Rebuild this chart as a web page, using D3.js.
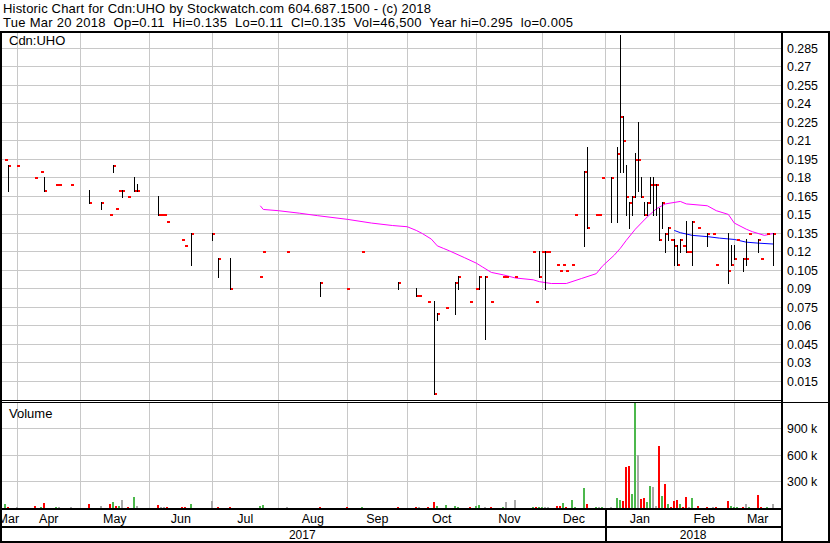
<!DOCTYPE html>
<html><head><meta charset="utf-8">
<script src="https://cdn.jsdelivr.net/npm/d3@7"></script>
<style>
body{margin:0;background:#fff}
svg{display:block}
text{font-family:"Liberation Sans",Arial,sans-serif;font-size:12px;fill:#000}
</style>
</head><body>
<svg id="c" width="830" height="543"></svg>
<script>
// ---------- DATA ----------
const headerLines = [
  "Historic Chart for Cdn:UHO by Stockwatch.com 604.687.1500 - (c) 2018",
  "Tue Mar 20 2018  Op=0.11  Hi=0.135  Lo=0.11  Cl=0.135  Vol=46,500  Year hi=0.295  lo=0.005"
];
const symbol = "Cdn:UHO";
const volumeTitle = "Volume";

const dates = ["2017-03-27","2017-03-28","2017-03-31","2017-04-10","2017-04-12","2017-04-13","2017-04-19","2017-04-20","2017-04-26",
"2017-05-04","2017-05-10","2017-05-15","2017-05-16","2017-05-17","2017-05-18","2017-05-19","2017-05-23","2017-05-25","2017-05-26",
"2017-06-06","2017-06-07","2017-06-08","2017-06-09","2017-06-16","2017-06-19","2017-06-21","2017-06-30",
"2017-07-04","2017-07-10","2017-07-24","2017-07-25","2017-08-04","2017-08-21","2017-09-01","2017-09-08","2017-09-26",
"2017-10-04","2017-10-05","2017-10-10","2017-10-12","2017-10-13","2017-10-18","2017-10-23","2017-10-24","2017-10-30",
"2017-11-01","2017-11-02","2017-11-06","2017-11-08","2017-11-14","2017-11-15","2017-11-20","2017-11-28","2017-11-29","2017-11-30",
"2017-12-01","2017-12-04","2017-12-05","2017-12-08","2017-12-11","2017-12-12","2017-12-13","2017-12-15","2017-12-18","2017-12-21","2017-12-22",
"2017-12-27","2017-12-28","2017-12-29",
"2018-01-03","2018-01-05","2018-01-08","2018-01-09","2018-01-10","2018-01-11","2018-01-12","2018-01-15","2018-01-16","2018-01-17",
"2018-01-18","2018-01-19","2018-01-22","2018-01-23","2018-01-24","2018-01-25","2018-01-26","2018-01-29","2018-01-30","2018-01-31",
"2018-02-01","2018-02-02","2018-02-05","2018-02-06","2018-02-07","2018-02-08","2018-02-09","2018-02-13","2018-02-16","2018-02-20",
"2018-02-21","2018-02-27","2018-02-28",
"2018-03-01","2018-03-02","2018-03-06","2018-03-07","2018-03-08","2018-03-13","2018-03-14","2018-03-16","2018-03-20"];

const highs = [0.195,0.19,0.19,0.18,0.185,0.18,0.175,0.175,0.175,
0.17,0.16,0.15,0.19,0.155,0.17,0.17,0.165,0.18,0.175,
0.165,0.15,0.15,0.145,0.13,0.125,0.135,0.135,
0.115,0.115,0.10,0.12,0.12,0.095,0.09,0.12,0.095,
0.09,0.085,0.08,0.08,0.07,0.075,0.095,0.10,0.08,
0.09,0.10,0.10,0.08,0.10,0.10,0.10,0.12,0.08,0.12,
0.12,0.12,0.12,0.11,0.105,0.11,0.105,0.11,0.15,0.185,0.205,
0.15,0.15,0.18,
0.18,0.205,0.295,0.23,0.19,0.16,0.165,0.20,0.225,0.18,
0.16,0.16,0.18,0.18,0.175,0.155,0.16,0.135,0.14,0.13,
0.13,0.125,0.13,0.125,0.145,0.12,0.145,0.14,0.135,0.135,
0.11,0.135,0.125,
0.125,0.13,0.115,0.13,0.135,0.13,0.115,0.135,0.135];

const lows = [0.195,0.17,0.19,0.18,0.185,0.17,0.175,0.175,0.175,
0.16,0.155,0.15,0.185,0.155,0.17,0.165,0.165,0.17,0.17,
0.15,0.15,0.15,0.145,0.13,0.125,0.11,0.13,
0.10,0.09,0.10,0.12,0.12,0.085,0.09,0.12,0.09,
0.085,0.085,0.08,0.005,0.065,0.075,0.07,0.09,0.08,
0.09,0.09,0.05,0.08,0.10,0.10,0.10,0.12,0.08,0.10,
0.12,0.09,0.12,0.11,0.105,0.11,0.105,0.11,0.15,0.125,0.14,
0.15,0.15,0.18,
0.145,0.145,0.185,0.185,0.15,0.14,0.15,0.165,0.17,0.165,
0.15,0.15,0.16,0.15,0.15,0.13,0.14,0.12,0.13,0.13,
0.11,0.11,0.12,0.125,0.12,0.12,0.11,0.14,0.125,0.135,
0.11,0.095,0.11,
0.115,0.13,0.105,0.11,0.135,0.12,0.115,0.135,0.11];

const closes = [0.195,0.19,0.19,0.18,0.185,0.17,0.175,0.175,0.175,
0.16,0.16,0.15,0.19,0.155,0.17,0.17,0.165,0.17,0.17,
0.15,0.15,0.15,0.145,0.13,0.125,0.135,0.135,
0.115,0.09,0.10,0.12,0.12,0.095,0.09,0.12,0.095,
0.085,0.085,0.08,0.005,0.07,0.075,0.095,0.10,0.08,
0.09,0.10,0.10,0.08,0.10,0.10,0.10,0.12,0.08,0.10,
0.12,0.12,0.12,0.11,0.105,0.11,0.105,0.11,0.15,0.185,0.14,
0.15,0.15,0.18,
0.18,0.20,0.23,0.21,0.165,0.16,0.165,0.195,0.195,0.165,
0.15,0.16,0.175,0.175,0.175,0.13,0.16,0.135,0.14,0.13,
0.125,0.11,0.13,0.125,0.12,0.12,0.145,0.14,0.135,0.135,
0.11,0.105,0.11,
0.115,0.13,0.115,0.115,0.135,0.13,0.115,0.135,0.135];

const volumes = [48000,15000,8000,26000,8000,60000,8000,15000,8000,
48000,26000,48000,71000,26000,26000,93000,8000,127000,26000,
37000,8000,8000,8000,15000,8000,48000,82000,
15000,15000,26000,37000,8000,15000,8000,8000,15000,
15000,8000,8000,71000,26000,37000,26000,8000,8000,
26000,37000,8000,8000,15000,71000,93000,8000,8000,8000,
8000,8000,15000,26000,26000,60000,8000,93000,8000,228000,48000,
15000,8000,15000,
8000,116000,93000,82000,465000,476000,161000,1250000,600000,105000,
116000,71000,251000,240000,26000,701000,138000,273000,48000,8000,
82000,93000,48000,8000,127000,8000,116000,26000,8000,8000,
8000,82000,26000,
15000,8000,15000,48000,8000,150000,8000,8000,46500];

const priorClose = 0.19;

// moving averages
const maLongDates = ["2017-07-24","2017-07-25","2017-08-01","2017-08-10","2017-08-18","2017-09-01","2017-09-13","2017-09-22","2017-09-29",
"2017-10-04","2017-10-06","2017-10-11","2017-10-13","2017-10-17","2017-10-19","2017-10-26","2017-11-01","2017-11-03","2017-11-08",
"2017-11-14","2017-11-20","2017-11-28","2017-11-30","2017-12-06","2017-12-13","2017-12-20","2017-12-27","2017-12-29","2018-01-04",
"2018-01-08","2018-01-10","2018-01-15","2018-01-19","2018-01-24","2018-01-29","2018-02-05","2018-02-07","2018-02-16","2018-02-21",
"2018-02-27","2018-03-01","2018-03-07","2018-03-09","2018-03-15","2018-03-20"];
const maLongValues = [0.157,0.154,0.153,0.151,0.149,0.146,0.143,0.141,0.140,
0.137,0.1345,0.130,0.1245,0.1225,0.1205,0.115,0.1105,0.1075,0.103,
0.101,0.0985,0.097,0.0955,0.094,0.094,0.098,0.102,0.108,0.117,
0.1225,0.129,0.138,0.148,0.1545,0.1585,0.1605,0.1585,0.157,0.153,
0.150,0.143,0.138,0.136,0.133,0.1345];
const maShortDates = ["2018-02-01","2018-02-05","2018-02-09","2018-02-16","2018-02-22","2018-03-01","2018-03-07","2018-03-13","2018-03-20"];
const maShortValues = [0.137,0.1352,0.133,0.132,0.1308,0.1297,0.1275,0.1267,0.126];

const priceTicks = [0.015,0.03,0.045,0.06,0.075,0.09,0.105,0.12,0.135,0.15,0.165,0.18,0.195,0.21,0.225,0.24,0.255,0.27,0.285];
const priceTickLabels = ["0.015","0.03","0.045","0.06","0.075","0.09","0.105","0.12","0.135","0.15","0.165","0.18","0.195","0.21","0.225","0.24","0.255","0.27","0.285"];
const volumeTicks = [300000,600000,900000];
const volumeTickLabels = ["300 k","600 k","900 k"];
const monthStarts = ["2017-03-01","2017-04-01","2017-05-01","2017-06-01","2017-07-01","2017-08-01","2017-09-01","2017-10-01","2017-11-01","2017-12-01","2018-01-01","2018-02-01","2018-03-01"];
const monthLabels = ["Mar","Apr","May","Jun","Jul","Aug","Sep","Oct","Nov","Dec","Jan","Feb","Mar"];
const yearStarts = ["2017-01-01","2018-01-01"];
const yearLabels = ["2017","2018"];
const viewStart = "2017-03-23", viewEnd = "2018-03-23";

// ---------- LAYOUT ----------
const L = 2, R = 781, PT = 33, PB = 400, VT = 403, VB = 508;
const gridColor = "#c8c8c8";
const headerWidths = [428, 570];

const parse = d3.timeParse("%Y-%m-%d");
const base = parse("2017-05-01");
const isWk = e => e.getDay() !== 0 && e.getDay() !== 6;
function slot(d){ // trading-slot index (weekdays), weekends fall back to Friday
  let t = d3.timeDay.floor(d);
  const w = t.getDay();
  if (w === 6) t = d3.timeDay.offset(t, -1);
  else if (w === 0) t = d3.timeDay.offset(t, -2);
  return t >= base ? d3.timeDay.range(base, t).filter(isWk).length
                   : -d3.timeDay.range(t, base).filter(isWk).length;
}

const x = d3.scaleLinear().domain([slot(parse(viewStart)), slot(parse(viewEnd))]).range([-0.7, 782.3]);
const y = d3.scaleLinear().domain([0.015, 0.285]).range([381, 47.8]);
const yv = d3.scaleLinear().domain([0, 900000]).range([508, 428]);
const X = d => x(slot(parse(d)));

const svg = d3.select("#c");
svg.append("rect").attr("width",830).attr("height",543).attr("fill","#fff");
const defs = svg.append("defs");
defs.append("clipPath").attr("id","cp").append("rect").attr("x",L).attr("y",PT).attr("width",R-L).attr("height",PB-PT);
defs.append("clipPath").attr("id","cv").append("rect").attr("x",L).attr("y",VT).attr("width",R-L).attr("height",VB-VT);
defs.append("clipPath").attr("id","ca").append("rect").attr("x",L).attr("y",509).attr("width",R-L).attr("height",34);

// ---------- GRID ----------
const grid = svg.append("g").attr("shape-rendering","crispEdges");
grid.selectAll(".hg").data(priceTicks).join("rect")
  .attr("x",L).attr("width",R-L).attr("y",d=>Math.round(y(d))).attr("height",1).attr("fill",gridColor);
grid.selectAll(".vg").data(volumeTicks).join("rect").attr("class","vg")
  .attr("x",L).attr("width",R-L).attr("y",d=>Math.round(yv(d))).attr("height",1).attr("fill",gridColor);
const mx = monthStarts.map(X);
const gv = grid.append("g").attr("clip-path","url(#cp)");
gv.selectAll("rect").data(mx).join("rect").attr("x",d=>Math.round(d)).attr("width",1).attr("y",PT).attr("height",PB-PT).attr("fill",gridColor);
const gv2 = grid.append("g").attr("clip-path","url(#cv)");
gv2.selectAll("rect").data(mx).join("rect").attr("x",d=>Math.round(d)).attr("width",1).attr("y",VT).attr("height",VB-VT).attr("fill",gridColor);

// ---------- MOVING AVERAGES ----------
const line = d3.line().x(d=>X(d[0])).y(d=>y(d[1]));
const pg = svg.append("g").attr("clip-path","url(#cp)");
pg.append("path").attr("d", line(maLongDates.map((d,i)=>[d,maLongValues[i]])))
  .attr("fill","none").attr("stroke","#ff00ff").attr("stroke-width",1);
pg.append("path").attr("d", line(maShortDates.map((d,i)=>[d,maShortValues[i]])))
  .attr("fill","none").attr("stroke","#0000ff").attr("stroke-width",1);

// ---------- PRICE BARS ----------
const bars = dates.map((d,i)=>({px:Math.round(X(d)), h:highs[i], l:lows[i], c:closes[i], v:volumes[i], prev: i?closes[i-1]:priorClose}));
const bg = pg.append("g").attr("shape-rendering","crispEdges");
bg.selectAll(".tk").data(bars).join("rect").attr("class","tk")
  .attr("x",b=>b.px).attr("width",3).attr("y",b=>Math.round(y(b.c))).attr("height",2).attr("fill","#ff0000");
bg.selectAll(".rg").data(bars.filter(b=>b.h>b.l)).join("rect").attr("class","rg")
  .attr("x",b=>b.px).attr("width",1).attr("y",b=>Math.round(y(b.h)))
  .attr("height",b=>Math.round(y(b.l))-Math.round(y(b.h))+2).attr("fill","#000");

// ---------- VOLUME ----------
const vg = svg.append("g").attr("clip-path","url(#cv)").attr("shape-rendering","crispEdges");
vg.selectAll("rect").data(bars).join("rect")
  .attr("x",b=>b.px-1).attr("width",2)
  .attr("y",b=>Math.round(yv(b.v))).attr("height",b=>VB-Math.round(yv(b.v)))
  .attr("fill",b=>b.c>b.prev?"#4cb84c":(b.c<b.prev?"#ff0000":"#aaaaaa"));

// ---------- FRAME ----------
const fr = svg.append("g").attr("shape-rendering","crispEdges").attr("fill","#000");
fr.append("rect").attr("x",0).attr("y",31).attr("width",830).attr("height",2);
fr.append("rect").attr("x",0).attr("y",400).attr("width",R+2).attr("height",1);
fr.append("rect").attr("x",0).attr("y",402).attr("width",830).attr("height",1);
fr.append("rect").attr("x",0).attr("y",508).attr("width",R+2).attr("height",2);
fr.append("rect").attr("x",0).attr("y",526).attr("width",R+2).attr("height",2);
fr.append("rect").attr("x",0).attr("y",541).attr("width",830).attr("height",2);
const jx = Math.round(X(yearStarts[1]));
fr.append("rect").attr("x",jx).attr("y",510).attr("width",2).attr("height",31);

// ---------- AXIS TEXT ----------
const ax = svg.append("g").attr("clip-path","url(#ca)");
const xmin = -0.7, xmax = R;
ax.selectAll("text").data(monthLabels).join("text")
  .attr("x",(d,i)=>{const a=Math.max(xmin,mx[i]); const b=i+1<mx.length?Math.min(xmax,mx[i+1]):xmax; return (a+b)/2;})
  .attr("y",522.5).attr("text-anchor","middle").style("font-size","12.5px").text(d=>d);
const yx = yearStarts.map(X);
svg.selectAll(".yl").data(yearLabels).join("text").attr("class","yl")
  .attr("x",(d,i)=>{const a=Math.max(xmin,yx[i]); const b=i+1<yx.length?Math.min(xmax,yx[i+1]):xmax; return (a+b)/2;})
  .attr("y",539).attr("text-anchor","middle").text(d=>d);

svg.selectAll(".pl").data(priceTicks).join("text").attr("class","pl")
  .attr("x",787).attr("y",d=>Math.round(y(d))+4.5).style("font-size","12.4px").text((d,i)=>priceTickLabels[i]);
svg.selectAll(".vl").data(volumeTicks).join("text").attr("class","vl")
  .attr("x",787).attr("y",d=>Math.round(yv(d))+4.5).style("font-size","12.4px").text((d,i)=>volumeTickLabels[i]);

// side borders drawn last
fr.append("rect").attr("x",0).attr("y",31).attr("width",2).attr("height",512);
fr.append("rect").attr("x",R).attr("y",31).attr("width",2).attr("height",512);
fr.append("rect").attr("x",828).attr("y",31).attr("width",2).attr("height",512);
svg.node().appendChild(fr.node());

// ---------- TITLES ----------
svg.selectAll(".hd").data(headerLines).join("text").attr("class","hd")
  .attr("x",3).attr("y",(d,i)=>12.5+i*14).attr("xml:space","preserve").style("white-space","pre")
  .style("font-size","13px")
  .attr("textLength",(d,i)=>headerWidths[i]).attr("lengthAdjust","spacing").text(d=>d);
svg.append("text").attr("x",9).attr("y",45).style("font-size","13px").text(symbol);
svg.append("text").attr("x",9).attr("y",418).style("font-size","13px").text(volumeTitle);
</script>
</body></html>
